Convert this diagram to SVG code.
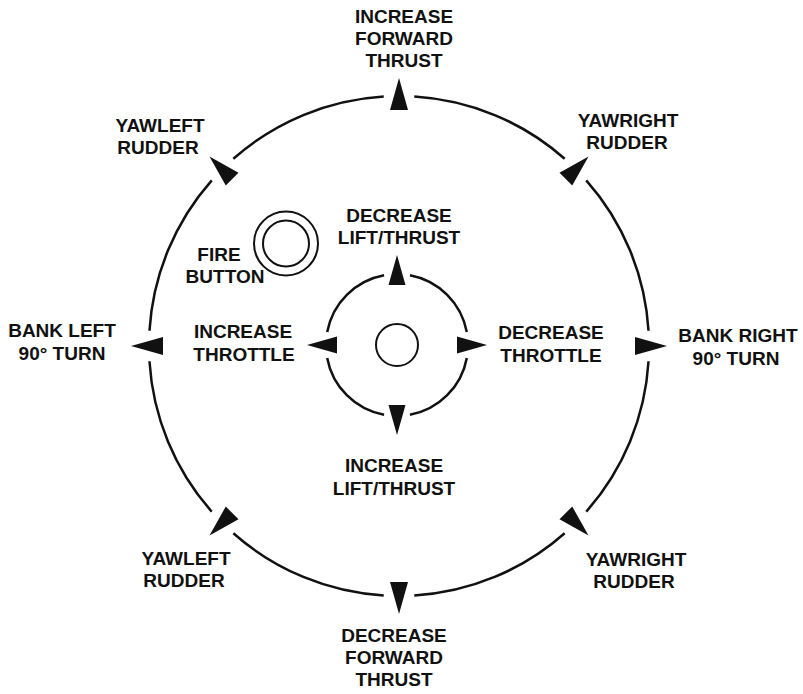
<svg xmlns="http://www.w3.org/2000/svg" xmlns:xlink="http://www.w3.org/1999/xlink" width="803" height="694" viewBox="0 0 803 694">
<style>
.lbl{font-family:"Liberation Sans",Arial,sans-serif;font-weight:bold;font-size:19px;fill:#111;text-anchor:middle}
.ring{fill:none;stroke:#111;stroke-width:2.5}
.thin{fill:none;stroke:#111;stroke-width:2}
.arr{fill:#111}
</style>
<defs>
<path id="bigArrow" d="M0,-268 L9,-236 L-9,-236 Z"/>
<path id="smallArrow" d="M0,-90 L8.5,-60 L-8.5,-60 Z"/>
</defs>
<rect width="803" height="694" fill="#fff"/>
<g id="outer-ring">
<path class="ring" d="M648.53,361.26 A250,250 0 0 1 586.24,511.65 M564.65,533.24 A250,250 0 0 1 414.26,595.53 M383.74,595.53 A250,250 0 0 1 233.35,533.24 M211.76,511.65 A250,250 0 0 1 149.47,361.26 M149.47,330.74 A250,250 0 0 1 211.76,180.35 M233.35,158.76 A250,250 0 0 1 383.74,96.47 M414.26,96.47 A250,250 0 0 1 564.65,158.76 M586.24,180.35 A250,250 0 0 1 648.53,330.74"/>
<g class="arr">
<use xlink:href="#bigArrow" transform="translate(399,346) rotate(0)"/>
<use xlink:href="#bigArrow" transform="translate(399,346) rotate(45)"/>
<use xlink:href="#bigArrow" transform="translate(399,346) rotate(90)"/>
<use xlink:href="#bigArrow" transform="translate(399,346) rotate(135)"/>
<use xlink:href="#bigArrow" transform="translate(399,346) rotate(180)"/>
<use xlink:href="#bigArrow" transform="translate(399,346) rotate(225)"/>
<use xlink:href="#bigArrow" transform="translate(399,346) rotate(270)"/>
<use xlink:href="#bigArrow" transform="translate(399,346) rotate(315)"/>
</g>
</g>
<g id="inner-ring">
<path class="ring" d="M466.81,357.94 A71,71 0 0 1 409.94,414.81 M384.06,414.81 A71,71 0 0 1 327.19,357.94 M327.19,332.06 A71,71 0 0 1 384.06,275.19 M409.94,275.19 A71,71 0 0 1 466.81,332.06"/>
<g class="arr">
<use xlink:href="#smallArrow" transform="translate(397,345) rotate(0)"/>
<use xlink:href="#smallArrow" transform="translate(397,345) rotate(90)"/>
<use xlink:href="#smallArrow" transform="translate(397,345) rotate(180)"/>
<use xlink:href="#smallArrow" transform="translate(397,345) rotate(270)"/>
</g>
<circle class="thin" cx="397" cy="345" r="21"/>
</g>
<g id="fire-button">
<circle class="thin" cx="286" cy="243.5" r="32"/>
<circle class="thin" cx="286" cy="243.5" r="23"/>
<text class="lbl"><tspan x="219" y="261">FIRE</tspan><tspan x="225" y="283">BUTTON</tspan></text>
</g>
<g id="connectors"></g>
<g id="increase-forward-thrust"><text class="lbl"><tspan x="404" y="23">INCREASE</tspan><tspan x="404" y="45">FORWARD</tspan><tspan x="404" y="67">THRUST</tspan></text></g>
<g id="yawleft-top"><text class="lbl"><tspan x="160" y="132">YAWLEFT</tspan><tspan x="158" y="154">RUDDER</tspan></text></g>
<g id="yawright-top"><text class="lbl"><tspan x="628" y="127">YAWRIGHT</tspan><tspan x="627" y="149">RUDDER</tspan></text></g>
<g id="decrease-lift"><text class="lbl"><tspan x="399" y="222">DECREASE</tspan><tspan x="399" y="244">LIFT/THRUST</tspan></text></g>
<g id="bank-left"><text class="lbl"><tspan x="62" y="337">BANK LEFT</tspan><tspan x="62" y="360">90° TURN</tspan></text></g>
<g id="increase-throttle"><text class="lbl"><tspan x="243" y="338">INCREASE</tspan><tspan x="244" y="361">THROTTLE</tspan></text></g>
<g id="decrease-throttle"><text class="lbl"><tspan x="551" y="339">DECREASE</tspan><tspan x="551" y="362">THROTTLE</tspan></text></g>
<g id="bank-right"><text class="lbl"><tspan x="738" y="342">BANK RIGHT</tspan><tspan x="736" y="365">90° TURN</tspan></text></g>
<g id="increase-lift"><text class="lbl"><tspan x="394" y="472">INCREASE</tspan><tspan x="394" y="495">LIFT/THRUST</tspan></text></g>
<g id="yawleft-bottom"><text class="lbl"><tspan x="186" y="565">YAWLEFT</tspan><tspan x="184" y="587">RUDDER</tspan></text></g>
<g id="yawright-bottom"><text class="lbl"><tspan x="636" y="566">YAWRIGHT</tspan><tspan x="634" y="588">RUDDER</tspan></text></g>
<g id="decrease-forward-thrust"><text class="lbl"><tspan x="394" y="642">DECREASE</tspan><tspan x="394" y="664">FORWARD</tspan><tspan x="394" y="686">THRUST</tspan></text></g>
</svg>
